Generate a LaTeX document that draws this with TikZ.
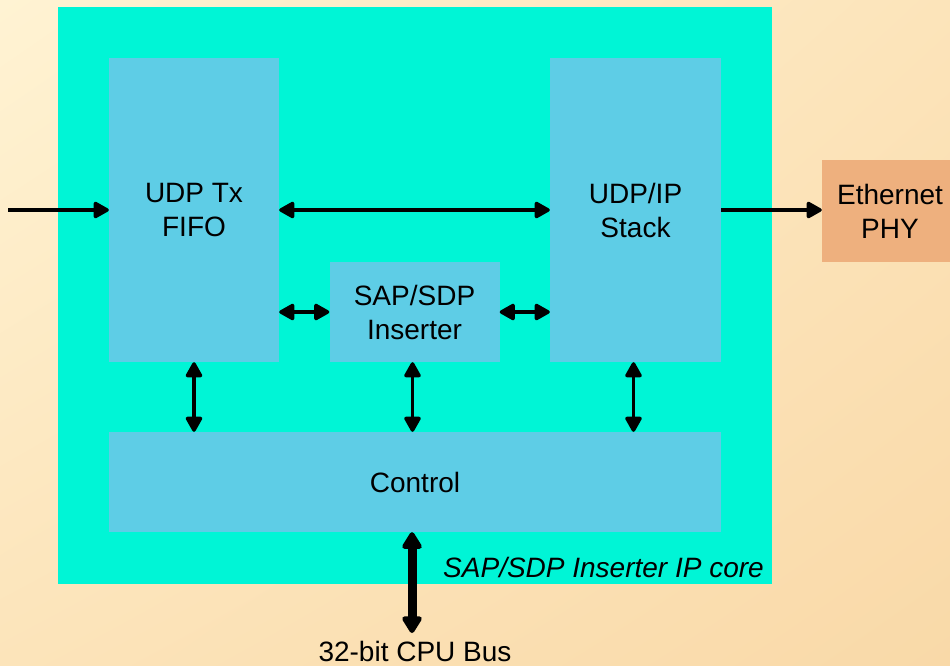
\documentclass[tikz,border=0pt]{standalone}
\usepackage{fontspec}
\setmainfont{Liberation Sans}
\usetikzlibrary{arrows.meta,shadings}
\definecolor{bgA}{HTML}{FFF3D3}
\definecolor{bgB}{HTML}{FCE4BA}
\definecolor{bgC}{HTML}{F9D9A8}
\definecolor{coreC}{HTML}{00F5D6}
\definecolor{blockC}{HTML}{5ECDE6}
\definecolor{phyC}{HTML}{EEB07E}
\tikzset{
  block/.style={fill=blockC, draw=none, inner sep=0pt, align=center,
    font=\fontsize{28}{34}\selectfont},
  lbl/.style={inner sep=0pt, font=\fontsize{28}{34}\selectfont},
  arr/.style={line width=3.4pt, -{Triangle[length=17pt,width=18pt,line join=round]}},
  darr/.style={line width=3.4pt, {Triangle[length=17pt,width=18pt,line join=round]}-{Triangle[length=17pt,width=18pt,line join=round]}},
  busarr/.style={line width=9pt, {Triangle[length=19pt,width=22pt,line join=round]}-{Triangle[length=19pt,width=22pt,line join=round]}}
}
\begin{document}
\begin{tikzpicture}[x=1pt,y=-1pt]
\useasboundingbox (0,0) rectangle (950,665);
\shade[upper left=bgA, upper right=bgB, lower left=bgB, lower right=bgC] (0,0) rectangle (950,665);
\fill[coreC] (58,7) rectangle (772,584);
\node[block, minimum width=170pt, minimum height=304pt] (fifo) at (194,210) {UDP Tx\\FIFO};
\node[block, minimum width=171pt, minimum height=304pt] (stack) at (635.5,210) {UDP/IP\\Stack};
\node[block, minimum width=170pt, minimum height=100pt] (ins) at (414.5,312) {SAP/SDP\\Inserter};
\node[block, minimum width=612pt, minimum height=100pt] (ctrl) at (415,482) {Control};
\node[block, fill=phyC, minimum width=136pt, minimum height=102pt] (phy) at (890,211) {Ethernet\\PHY};
\coordinate (in) at (8,210);
\draw[arr] (in) -- (fifo.west);
\draw[darr] (fifo.east) -- (stack.west);
\draw[arr] (stack.east) -- (phy.west |- stack.east);
\draw[darr] (fifo.east |- ins.west) -- (ins.west);
\draw[darr] (ins.east) -- (stack.west |- ins.east);
\draw[darr] (fifo.south) -- (fifo.south |- ctrl.north);
\draw[darr] ([xshift=-2pt]ins.south) -- ([xshift=-2pt]ins.south |- ctrl.north);
\draw[darr] ([xshift=-2pt]stack.south) -- ([xshift=-2pt]stack.south |- ctrl.north);
\node[lbl, anchor=base] (bus) at (415,661) {32-bit CPU Bus};
\coordinate (busend) at (412,633);
\draw[busarr] ([xshift=-3pt]ctrl.south) -- (busend);
\node[lbl, anchor=base east, font=\fontsize{28}{34}\selectfont\itshape] (core) at (764,577) {SAP/SDP Inserter IP core};
\end{tikzpicture}
\end{document}
